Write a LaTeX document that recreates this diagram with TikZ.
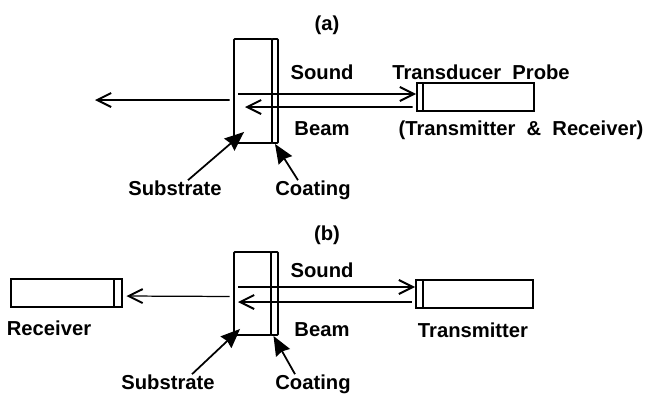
\documentclass[tikz,border=0pt]{standalone}
\usepackage{fontspec}
\setmainfont{Liberation Sans}
\usetikzlibrary{arrows.meta}

\begin{document}
\begin{tikzpicture}[
    box/.style={draw, line width=1.1pt, inner sep=0pt, minimum height=0.56cm},
    plate/.style={draw, line width=1.1pt, inner sep=0pt, rounded corners=0.5pt},
    arr/.style={-{Straight Barb[length=8pt, width=8pt, line width=1.1pt]}, line width=1pt},
    arrb/.style={-{Straight Barb[length=8pt, width=8pt, line width=1.1pt]}, line width=0.7pt},
    ptr/.style={-{Stealth[length=11pt, width=9pt, inset=1pt]}, line width=1pt},
    lbl/.style={font=\fontsize{11.5}{13}\selectfont\bfseries, inner sep=0pt, text height=8.5pt, text depth=0pt},
]
\useasboundingbox (0,0) rectangle (13.02,7.90);

% (a)
\node[lbl] (tita) at (6.54, 7.44) {(a)};
\node[plate, minimum width=0.76cm, minimum height=2.08cm] (subA)  at (5.06, 6.08) {};
\node[plate, minimum width=0.12cm, minimum height=2.08cm] (coatA) at (5.50, 6.08) {};
\node[box, minimum width=0.12cm] (faceA)  at (8.40, 5.96) {};
\node[box, minimum width=2.22cm] (probeA) at (9.57, 5.96) {};
\coordinate (exitA)  at (1.90, 5.90);
\coordinate (soundA) at (4.76, 6.02);
\coordinate (beamA)  at (4.90, 5.76);

\node[lbl] (soundlblA) at (6.44, 6.46) {Sound};
\node[lbl] (beamlblA)  at (6.44, 5.34) {Beam};
\node[lbl] (probelbl)  at (9.62, 6.46) {Transducer\ \ Probe};
\node[lbl] (bothlbl)   at (10.42, 5.34) {(Transmitter\ \ \&\ \ Receiver)};
\node[lbl] (sublblA)   at (3.50, 4.14) {Substrate};
\node[lbl] (coatlblA)  at (6.26, 4.14) {Coating};

\draw[arr, shorten <=2pt] ([yshift=-0.18cm]subA.west) -- (exitA);
\draw[arr] (soundA) -- ([yshift=0.06cm]faceA.west);
\draw[arr, shorten <=2pt] ([yshift=-0.20cm]faceA.west) -- (beamA);
\draw[ptr] ([xshift=0.26cm]sublblA.north) -- ([xshift=0.22cm, yshift=0.24cm]subA.south west);
\draw[ptr] ([xshift=-0.30cm]coatlblA.north) -- (coatA.south);

% (b)
\node[lbl] (titb) at (6.54, 3.24) {(b)};
\node[plate, minimum width=0.74cm, minimum height=1.66cm] (subB)  at (5.05, 2.03) {};
\node[plate, minimum width=0.14cm, minimum height=1.66cm] (coatB) at (5.49, 2.03) {};
\node[box, minimum width=0.14cm] (faceB)  at (8.39, 2.02) {};
\node[box, minimum width=2.20cm] (probeB) at (9.56, 2.02) {};
\node[box, minimum width=2.06cm] (recv)   at (1.25, 2.04) {};
\node[box, minimum width=0.16cm] (faceR)  at (2.36, 2.04) {};
\coordinate (soundB) at (4.76, 2.16);
\coordinate (beamB)  at (4.76, 1.86);

\node[lbl] (soundlblB) at (6.44, 2.50) {Sound};
\node[lbl] (beamlblB)  at (6.44, 1.32) {Beam};
\node[lbl] (translbl)  at (9.46, 1.30) {Transmitter};
\node[lbl] (recvlbl)   at (0.98, 1.34) {Receiver};
\node[lbl] (sublblB)   at (3.36, 0.26) {Substrate};
\node[lbl] (coatlblB)  at (6.26, 0.26) {Coating};

\draw[arrb, shorten <=2pt, shorten >=2pt] ([yshift=-0.06cm]subB.west) -- ([yshift=-0.06cm]faceR.east);
\draw[arrb] (soundB) -- ([yshift=0.14cm]faceB.west);
\draw[arrb, shorten <=2pt] ([yshift=-0.16cm]faceB.west) -- (beamB);
\draw[ptr] ([xshift=0.48cm]sublblB.north) -- ([xshift=0.14cm, yshift=0.14cm]subB.south west);
\draw[ptr] ([xshift=-0.36cm]coatlblB.north) -- ([xshift=-0.02cm]coatB.south);

\end{tikzpicture}
\end{document}
